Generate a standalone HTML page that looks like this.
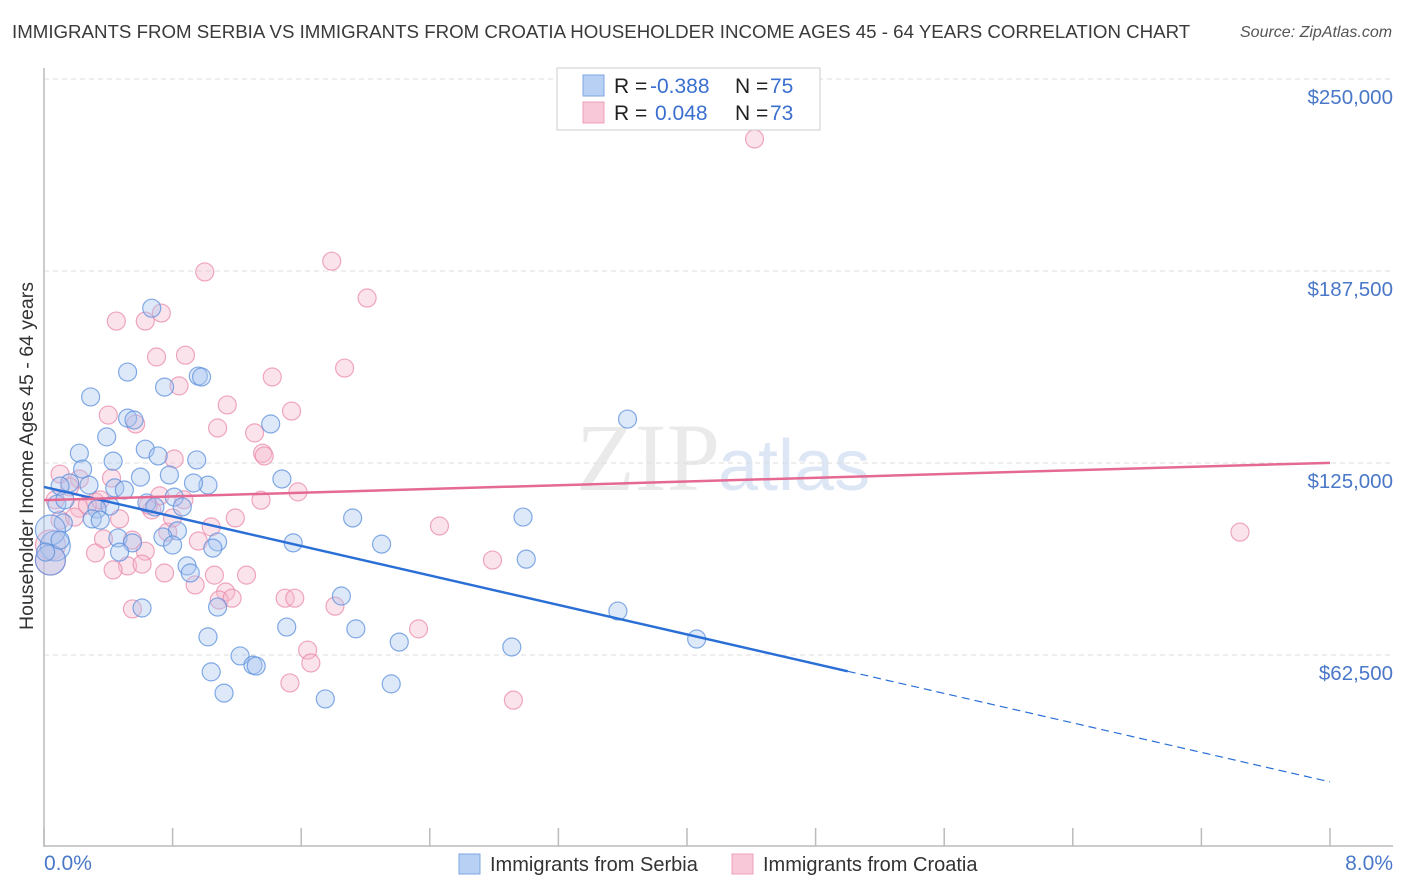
<!DOCTYPE html>
<html><head><meta charset="utf-8"><style>
body{margin:0;width:1406px;height:892px;background:#fff;font-family:"Liberation Sans",sans-serif;overflow:hidden;position:relative}
.abs{position:absolute;white-space:nowrap}
</style></head><body>
<div class="abs" style="left:12px;top:21px;font-size:18.7px;color:#3a3a3a">IMMIGRANTS FROM SERBIA VS IMMIGRANTS FROM CROATIA HOUSEHOLDER INCOME AGES 45 - 64 YEARS CORRELATION CHART</div>
<div class="abs" style="left:1240px;top:24px;font-size:16px;color:#555;font-style:italic">Source: ZipAtlas.com</div>
<svg id="chart" width="1406" height="892" style="position:absolute;left:0;top:0">
<text x="720" y="490" text-anchor="end" font-family="Liberation Serif" font-size="96" fill="#ddd" opacity="0.6">ZIP</text>
<text x="718" y="490" font-family="Liberation Sans" font-size="72" fill="#c5d7ef" opacity="0.6">atlas</text>
<g id="grid"></g><g id="axes"></g><g id="pts"></g><g id="lines"></g>
<text x="33" y="456" transform="rotate(-90 33 456)" text-anchor="middle" font-size="19.5" fill="#333">Householder Income Ages 45 - 64 years</text>
<text x="44" y="870" font-size="21" fill="#4a78c8">0.0%</text>
<text x="1393" y="870" text-anchor="end" font-size="21" fill="#4a78c8">8.0%</text>
<g>
<rect x="557" y="68" width="263" height="62" fill="#fff" stroke="#ccc"/>
<rect x="583" y="75" width="21" height="21" fill="#b8d0f4" stroke="#7fa6e6"/>
<rect x="583" y="102" width="21" height="21" fill="#f8c8d8" stroke="#eea0bb"/>
<text x="614" y="93" font-size="21" fill="#222">R =</text><text x="650" y="93" font-size="21" fill="#3a6fd0">-0.388</text>
<text x="735" y="93" font-size="21" fill="#222">N =</text><text x="770" y="93" font-size="21" fill="#3a6fd0">75</text>
<text x="614" y="120" font-size="21" fill="#222">R =</text><text x="655" y="120" font-size="21" fill="#3a6fd0">0.048</text>
<text x="735" y="120" font-size="21" fill="#222">N =</text><text x="770" y="120" font-size="21" fill="#3a6fd0">73</text>
</g>
<g><rect x="459" y="854" width="21" height="20" fill="#b8d0f4" stroke="#7fa6e6"/><text x="490" y="871" font-size="20" fill="#333">Immigrants from Serbia</text></g>
<g><rect x="732" y="854" width="21" height="20" fill="#f8c8d8" stroke="#eea0bb"/><text x="763" y="871" font-size="20" fill="#333">Immigrants from Croatia</text></g>
</svg>
<script>
const yTicks=[62500,125000,187500,250000];
const yTickLabels=["$62,500","$125,000","$187,500","$250,000"];
const xTicks=[0,0.8,1.6,2.4,3.2,4,4.8,5.6,6.4,7.2,8];
const serbiaX=[0.67,0.52,0.75,0.96,0.98,0.29,0.52,0.56,0.39,1.41,3.63,0.22,0.63,0.43,0.71,0.95,0.24,0.60,0.78,1.48,0.16,0.28,0.44,1.02,0.93,0.10,0.81,0.64,0.08,0.41,0.86,0.69,0.33,0.83,0.12,0.30,1.92,2.98,0.74,0.35,1.55,0.80,1.08,1.05,2.10,0.46,0.55,0.47,3.00,0.89,0.91,1.08,0.61,1.85,3.57,1.51,1.94,2.21,1.02,2.91,4.06,1.22,1.04,1.30,1.32,1.12,2.16,1.75,0.07,0.04,0.04,0.13,0.01,0.10,0.50];
const serbiaY=[175.4,154.6,149.7,153.3,153.0,146.5,139.6,139.0,133.5,137.7,139.3,128.2,129.5,125.6,127.3,126.0,123.0,120.4,121.1,119.8,118.5,117.8,116.9,117.8,118.5,117.5,113.9,112.0,111.6,111.0,110.7,110.7,110.0,102.9,105.5,106.8,107.1,107.4,100.9,106.4,99.0,98.3,99.3,97.3,98.6,100.6,99.0,96.0,93.7,91.5,89.2,78.1,77.8,81.7,76.8,71.6,71.0,66.7,68.4,65.1,67.7,62.2,57.0,59.2,58.9,50.1,53.1,48.2,98.0,93.4,103.2,113.0,96.0,99.9,116.2];
const serbiaBig=[68,69,70];
const croatiaX=[4.42,1.00,1.79,2.01,0.45,0.63,0.73,0.70,0.88,1.87,1.42,0.84,0.40,0.57,1.14,1.54,1.08,1.31,0.81,1.36,1.37,0.10,0.22,1.58,0.42,0.16,1.35,0.32,0.67,0.65,0.22,0.47,1.04,2.46,7.44,0.77,0.32,0.37,0.55,0.63,0.96,0.52,0.43,0.61,2.79,1.06,1.26,0.75,0.94,1.13,1.09,1.17,1.50,1.56,0.55,1.81,2.33,1.64,1.66,1.53,2.92,0.04,0.04,0.10,0.19,0.27,0.35,0.87,1.19,0.07,0.80,0.72];
const croatiaY=[230.5,187.2,190.7,178.7,171.2,171.2,173.8,159.5,160.1,155.9,153.0,150.1,140.6,137.7,143.9,141.9,136.4,134.8,126.3,128.2,127.3,121.4,119.8,115.6,120.1,117.2,112.9,112.3,109.7,111.3,110.3,106.8,104.2,104.5,102.5,102.5,95.7,100.3,99.9,96.3,99.6,91.5,90.2,92.1,93.4,88.5,88.5,89.2,85.3,83.0,80.4,81.0,81.0,81.0,77.5,78.4,71.0,64.1,59.9,53.4,47.8,98.3,93.4,106.4,107.4,111.3,113.0,113.0,107.1,113.0,107.1,114.3];
const croatiaBig=[61,62];
const serbiaTrend=[117.2,-12.0]; // intercept (k$), slope per %
const croatiaTrend=[112.9,1.52];
const serbiaSolidEnd=5.0;

const NS="http://www.w3.org/2000/svg";
const X=v=>44+v/8*1286;
const Y=v=>847-v/62500*192;
function mk(tag,attrs,parent){const e=document.createElementNS(NS,tag);for(const k in attrs)e.setAttribute(k,attrs[k]);parent.appendChild(e);return e;}
const grid=document.getElementById('grid'),axes=document.getElementById('axes'),pts=document.getElementById('pts'),lines=document.getElementById('lines');
yTicks.forEach((t,i)=>{
  const l=mk('line',{x1:44,x2:1393,y1:Y(t),y2:Y(t),stroke:'#ddd','stroke-dasharray':'5,4'},grid);
  
  
  const tx=mk('text',{x:1393,y:Y(t)+25,'text-anchor':'end','font-size':20.5,fill:'#4a78c8'},grid);
  tx.textContent=yTickLabels[i];
  
  
});
const ya=mk('line',{x1:44,x2:44,y1:68,y2:847,stroke:'#bbb','stroke-width':1.5},axes);


const xa=mk('line',{x1:44,x2:1393,y1:846,y2:846,stroke:'#bbb','stroke-width':1.5},axes);


xTicks.forEach(t=>{
  const l=mk('line',{x1:X(t),x2:X(t),y1:828,y2:846,stroke:'#bbb','stroke-width':1.5},axes);
  
  
});
function drawPts(xs,ys,big,fill,stroke,name){
  xs.forEach((x,i)=>{
    const r=big.includes(i)?15:9;
    const c=mk('circle',{cx:X(x),cy:Y(ys[i]*1000),r:r,fill:fill,'fill-opacity':0.4,stroke:stroke,'stroke-width':1.2,'stroke-opacity':0.75},pts);
    
    
  });
}
drawPts(croatiaX,croatiaY,croatiaBig,'#f6b8cc','#e98aab','croatia-point');
drawPts(serbiaX,serbiaY,serbiaBig,'#a9c6f0','#5b8fdc','serbia-point');
const tv=(tr,x)=>(tr[0]+tr[1]*x)*1000;
const s1=mk('line',{x1:X(0),y1:Y(tv(serbiaTrend,0)),x2:X(serbiaSolidEnd),y2:Y(tv(serbiaTrend,serbiaSolidEnd)),stroke:'#2a6fd6','stroke-width':2.5},lines);


const s2=mk('line',{x1:X(serbiaSolidEnd),y1:Y(tv(serbiaTrend,serbiaSolidEnd)),x2:X(8),y2:Y(tv(serbiaTrend,8)),stroke:'#2a6fd6','stroke-width':1.2,'stroke-dasharray':'8,5'},lines);


const c1=mk('line',{x1:X(0),y1:Y(tv(croatiaTrend,0)),x2:X(8),y2:Y(tv(croatiaTrend,8)),stroke:'#e46a93','stroke-width':2.5},lines);


</script>
</body></html>
